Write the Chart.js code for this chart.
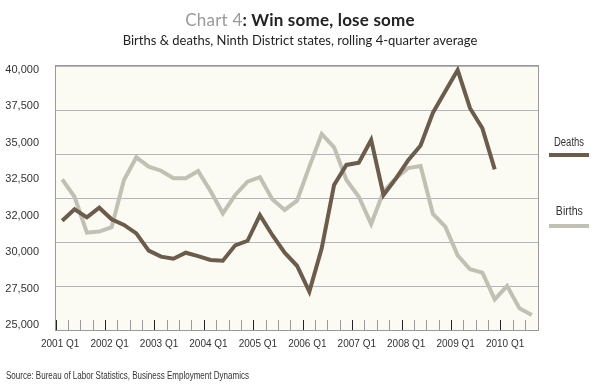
<!DOCTYPE html>
<html>
<head>
<meta charset="utf-8">
<script src="https://cdn.jsdelivr.net/npm/chart.js@4.4.1/dist/chart.umd.min.js"></script>
<style>
  html, body { margin: 0; padding: 0; background: #fff; }
  #wrap { position: relative; width: 600px; height: 387px; font-family: Lato, "Noto Sans", sans-serif; color: #222; }
  #chart { position: absolute; left: 0; top: 0; }
  .title { position: absolute; left: 0; top: 9px; width: 600px; text-align: center; font-size: 17px; font-weight: bold; letter-spacing: 0.2px; }
  .title span { color: #9a9a9a; font-weight: normal; }
  .subtitle { position: absolute; left: 0; top: 32px; width: 600px; text-align: center; font-size: 13px; }
  .legend { position: absolute; left: 547px; width: 44px; text-align: center; font-family: "Liberation Sans", Arial, sans-serif; font-size: 12px; color: #333; }
  .legend span, .source span { display: inline-block; white-space: nowrap; }
  .legend span { transform-origin: center; }
  .legend i { display: block; height: 4px; margin: 4px 2px 0 2px; }
  .source { position: absolute; left: 6px; top: 370px; font-family: "Liberation Sans", Arial, sans-serif; font-size: 10px; color: #333; }
  .source span { transform-origin: left center; }
</style>
</head>
<body>
<div id="wrap">
  <canvas id="chart" width="600" height="387"></canvas>
  <div class="title"><span>Chart 4</span>: Win some, lose some</div>
  <div class="subtitle">Births &amp; deaths, Ninth District states, rolling 4-quarter average</div>
  <div class="legend" style="top:135px"><span data-w="30">Deaths</span><i style="background:#6b5c4c"></i></div>
  <div class="legend" style="top:204px"><span data-w="27">Births</span><i style="background:#c0c0b3; margin-top:6px"></i></div>
  <div class="source"><span data-w="243">Source: Bureau of Labor Statistics, Business Employment Dynamics</span></div>
</div>
<script>
// quarters 2001 Q1 .. 2010 Q3
const quarters = [
  "2001 Q1", "2001 Q2", "2001 Q3", "2001 Q4",
  "2002 Q1", "2002 Q2", "2002 Q3", "2002 Q4",
  "2003 Q1", "2003 Q2", "2003 Q3", "2003 Q4",
  "2004 Q1", "2004 Q2", "2004 Q3", "2004 Q4",
  "2005 Q1", "2005 Q2", "2005 Q3", "2005 Q4",
  "2006 Q1", "2006 Q2", "2006 Q3", "2006 Q4",
  "2007 Q1", "2007 Q2", "2007 Q3", "2007 Q4",
  "2008 Q1", "2008 Q2", "2008 Q3", "2008 Q4",
  "2009 Q1", "2009 Q2", "2009 Q3", "2009 Q4",
  "2010 Q1", "2010 Q2", "2010 Q3"
];

const deaths = [
  31210, 31860, 31400, 31950, 31290, 30970, 30490, 29510,
  29170, 29050, 29390, 29200, 28980, 28940, 29810, 30070,
  31520, 30400, 29390, 28650, 27180, 29640, 33240, 34380,
  34510, 35800, 32670, 33600, 34650, 35480, 37350, 38560,
  39770, 37600, 36460, 34130
];

const births = [
  33560, 32570, 30530, 30590, 30840, 33520, 34810, 34280,
  34050, 33620, 33620, 34030, 32900, 31630, 32670, 33430,
  33680, 32430, 31820, 32350, 34280, 36140, 35380, 33520,
  32570, 31020, 32860, 33620, 34200, 34320, 31590, 30870,
  29240, 28450, 28260, 26740, 27500, 26230, 25850
];

// the printed axis labels (as they appear on the original, bottom to top)
const yTickLabels = ["25,000", "27,500", "30,000", "32,000", "32,500", "35,000", "37,500", "40,000"];

const labelFont = "'Liberation Sans', Arial, sans-serif";

// squeeze the condensed-looking html labels to the original widths
document.querySelectorAll("[data-w]").forEach((el) => {
  const w = el.getBoundingClientRect().width;
  el.style.transform = "scaleX(" + (Number(el.dataset.w) / w).toFixed(3) + ")";
});

const plotFrame = {
  id: "plotFrame",
  beforeDraw(chart) {
    const { ctx, chartArea: a } = chart;
    ctx.save();
    ctx.fillStyle = "#fcfbf3";
    ctx.fillRect(a.left, a.top, a.width, a.height);
    ctx.restore();
  },
  beforeDatasetsDraw(chart) {
    const { ctx, chartArea: a } = chart;
    ctx.save();
    ctx.strokeStyle = "#9a9a9a";
    ctx.lineWidth = 1;
    ctx.strokeRect(a.left - 0.5, a.top - 0.5, a.width + 1, a.height + 1);
    ctx.restore();
  }
};

new Chart(document.getElementById("chart"), {
  type: "line",
  data: {
    labels: quarters,
    datasets: [
      {
        label: "Deaths",
        data: deaths,
        borderColor: "#6b5c4c",
        borderWidth: 4,
        pointRadius: 0,
        tension: 0,
        yAxisID: "y"
      },
      {
        label: "Births",
        data: births,
        borderColor: "#c0c0b3",
        borderWidth: 4,
        pointRadius: 0,
        tension: 0,
        yAxisID: "y"
      }
    ]
  },
  options: {
    responsive: false,
    animation: false,
    layout: { padding: { left: 0, top: 66, right: 62, bottom: 0 } },
    plugins: {
      legend: { display: false },
      tooltip: { enabled: false }
    },
    scales: {
      x: {
        offset: true,
        grid: {
          offset: true,
          drawOnChartArea: false,
          tickLength: -10,
          tickColor: (c) => (c.index % 4 === 0 ? "#222" : "#9a9a9a")
        },
        border: { display: false },
        ticks: {
          autoSkip: false,
          maxRotation: 0,
          padding: 18,
          labelOffset: -2,
          color: "#333",
          font: { family: labelFont, size: 10 },
          callback: (v, i) => (i % 4 === 0 ? quarters[i] : "")
        },
        afterFit: (s) => { s.height = 57; }
      },
      y: {
        min: 25000,
        max: 40000,
        ticks: { display: false, stepSize: 2500 },
        grid: { color: "#b5b5b5", drawTicks: false },
        border: { display: false },
        afterFit: (s) => { s.width = 0; }
      },
      yl: {
        position: "left",
        min: -0.137,
        max: 7.11,
        afterBuildTicks: (s) => { s.ticks = yTickLabels.map((_, i) => ({ value: i })); },
        ticks: {
          padding: 9,
          color: "#333",
          font: { family: labelFont, size: 11 },
          callback: (v) => yTickLabels[v]
        },
        grid: { display: false },
        border: { display: false },
        afterFit: (s) => { s.width = 56; }
      }
    }
  },
  plugins: [plotFrame]
});
</script>
</body>
</html>
